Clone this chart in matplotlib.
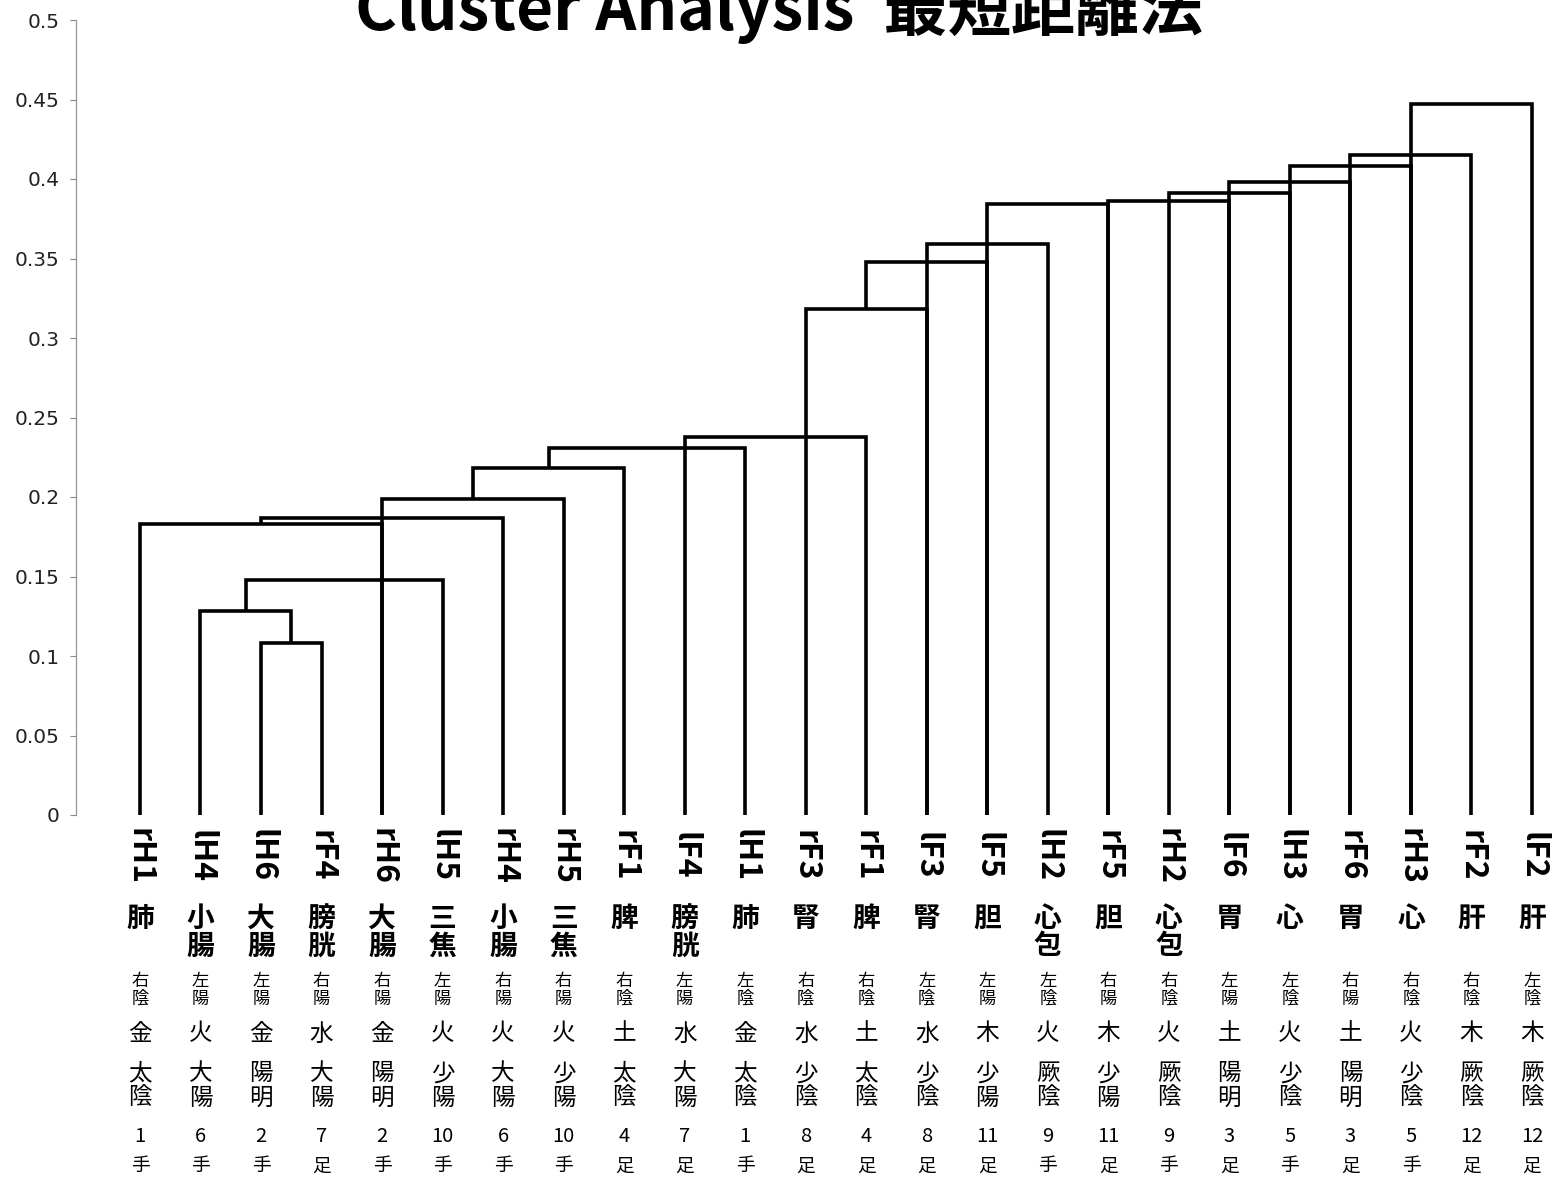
import matplotlib
matplotlib.use('Agg')
import matplotlib.pyplot as plt
import matplotlib.transforms as mtransforms

plt.rcParams['font.family'] = ['Noto Sans CJK JP', 'DejaVu Sans']

# leaf labels, left to right
codes = ['rH1', 'lH4', 'lH6', 'rF4', 'rH6', 'lH5', 'rH4', 'rH5', 'rF1', 'lF4', 'lH1', 'rF3',
         'rF1', 'lF3', 'lF5', 'lH2', 'rF5', 'rH2', 'lF6', 'lH3', 'rF6', 'rH3', 'rF2', 'lF2']
organs = ['肺', '小腸', '大腸', '膀胱', '大腸', '三焦', '小腸', '三焦', '脾', '膀胱', '肺', '腎',
          '脾', '腎', '胆', '心包', '胆', '心包', '胃', '心', '胃', '心', '肝', '肝']
sides = ['右陰', '左陽', '左陽', '右陽', '右陽', '左陽', '右陽', '右陽', '右陰', '左陽', '左陰', '右陰',
         '右陰', '左陰', '左陽', '左陰', '右陽', '右陰', '左陽', '左陰', '右陽', '右陰', '右陰', '左陰']
elements = ['金', '火', '金', '水', '金', '火', '火', '火', '土', '水', '金', '水',
            '土', '水', '木', '火', '木', '火', '土', '火', '土', '火', '木', '木']
channels = ['太陰', '大陽', '陽明', '大陽', '陽明', '少陽', '大陽', '少陽', '太陰', '大陽', '太陰', '少陰',
            '太陰', '少陰', '少陽', '厥陰', '少陽', '厥陰', '陽明', '少陰', '陽明', '少陰', '厥陰', '厥陰']
numbers = ['1', '6', '2', '7', '2', '10', '6', '10', '4', '7', '1', '8',
           '4', '8', '11', '9', '11', '9', '3', '5', '3', '5', '12', '12']
limbs = ['手', '手', '手', '足', '手', '手', '手', '手', '足', '足', '手', '足',
         '足', '足', '足', '手', '足', '手', '足', '手', '足', '手', '足', '足']

# links: two children (leaf index or earlier link 'mK') joined at a height
link_a = [2, 1, 'm1', 0, 'm3', 4, 'm5', 'm6', 9, 11, 'm9', 13, 14, 16, 17, 18, 19, 20, 21]
link_b = [3, 'm0', 5, 4, 6, 7, 8, 10, 12, 13, 14, 15, 16, 18, 19, 20, 21, 22, 23]
link_h = [0.108, 0.128, 0.148, 0.183, 0.187, 0.199, 0.218, 0.231, 0.238, 0.318,
          0.348, 0.359, 0.384, 0.386, 0.391, 0.398, 0.408, 0.415, 0.447]

yticks = [0, 0.05, 0.1, 0.15, 0.2, 0.25, 0.3, 0.35, 0.4, 0.45, 0.5]
ytick_labels = ['0', '0.05', '0.1', '0.15', '0.2', '0.25', '0.3', '0.35', '0.4', '0.45', '0.5']

W, H = 1555, 1182
fig = plt.figure(figsize=(W / 100, H / 100), dpi=100)
ax = fig.add_axes([76 / W, (H - 815) / H, 1 - 76 / W, (815 - 20) / H])

pos = {i: float(i) for i in range(len(codes))}
top = {i: 0.0 for i in range(len(codes))}
for k, (a, b, h) in enumerate(zip(link_a, link_b, link_h)):
    xa, xb = pos[a], pos[b]
    ax.plot([xa, xa, xb, xb], [top[a], h, h, top[b]], color='black', lw=2.6,
            solid_joinstyle='miter', solid_capstyle='butt', clip_on=False)
    pos['m%d' % k] = (xa + xb) / 2
    top['m%d' % k] = h

ax.set_xlim(-1.057, 23.38)
ax.set_ylim(0, 0.5)
ax.set_xticks([])
ax.set_yticks(yticks)
ax.set_yticklabels(ytick_labels, family='DejaVu Sans', fontsize=14.5, color='#222222')
ax.tick_params(axis='y', length=4, width=0.8, color='#888888', pad=8)
for s in ['top', 'right', 'bottom']:
    ax.spines[s].set_visible(False)
ax.spines['left'].set_color('#999999')
ax.spines['left'].set_linewidth(0.9)
ax.spines['left'].set_linestyle((0, (1, 0.6)))

trans = mtransforms.blended_transform_factory(ax.transData, fig.transFigure)


def fy(py):
    return 1 - py / H


for i in range(len(codes)):
    ax.text(i, fy(856), codes[i], transform=trans, rotation=-90, ha='center', va='center',
            fontsize=23, fontweight='bold')
    for j, ch in enumerate(organs[i]):
        ax.text(i, fy(919 + 27.5 * j), ch, transform=trans, ha='center', va='center',
                fontsize=20, fontweight='bold')
    for j, ch in enumerate(sides[i]):
        ax.text(i, fy(981 + 18 * j), ch, transform=trans, ha='center', va='center',
                fontsize=12.5)
    ax.text(i, fy(1034), elements[i], transform=trans, ha='center', va='center', fontsize=17)
    for j, ch in enumerate(channels[i]):
        ax.text(i, fy(1074 + 24.5 * j), ch, transform=trans, ha='center', va='center',
                fontsize=17)
    ax.text(i, fy(1136), numbers[i], transform=trans, ha='center', va='center',
            fontsize=14.5)
    ax.text(i, fy(1166), limbs[i], transform=trans, ha='center', va='center', fontsize=13.5)

# title sits partly above the top edge, as in the scanned original
fig.text(779 / W, fy(30), 'Cluster Analysis  最短距離法', ha='center', va='baseline',
         fontsize=46, fontweight='bold')

fig.savefig('out.png', dpi=100, facecolor='white')
